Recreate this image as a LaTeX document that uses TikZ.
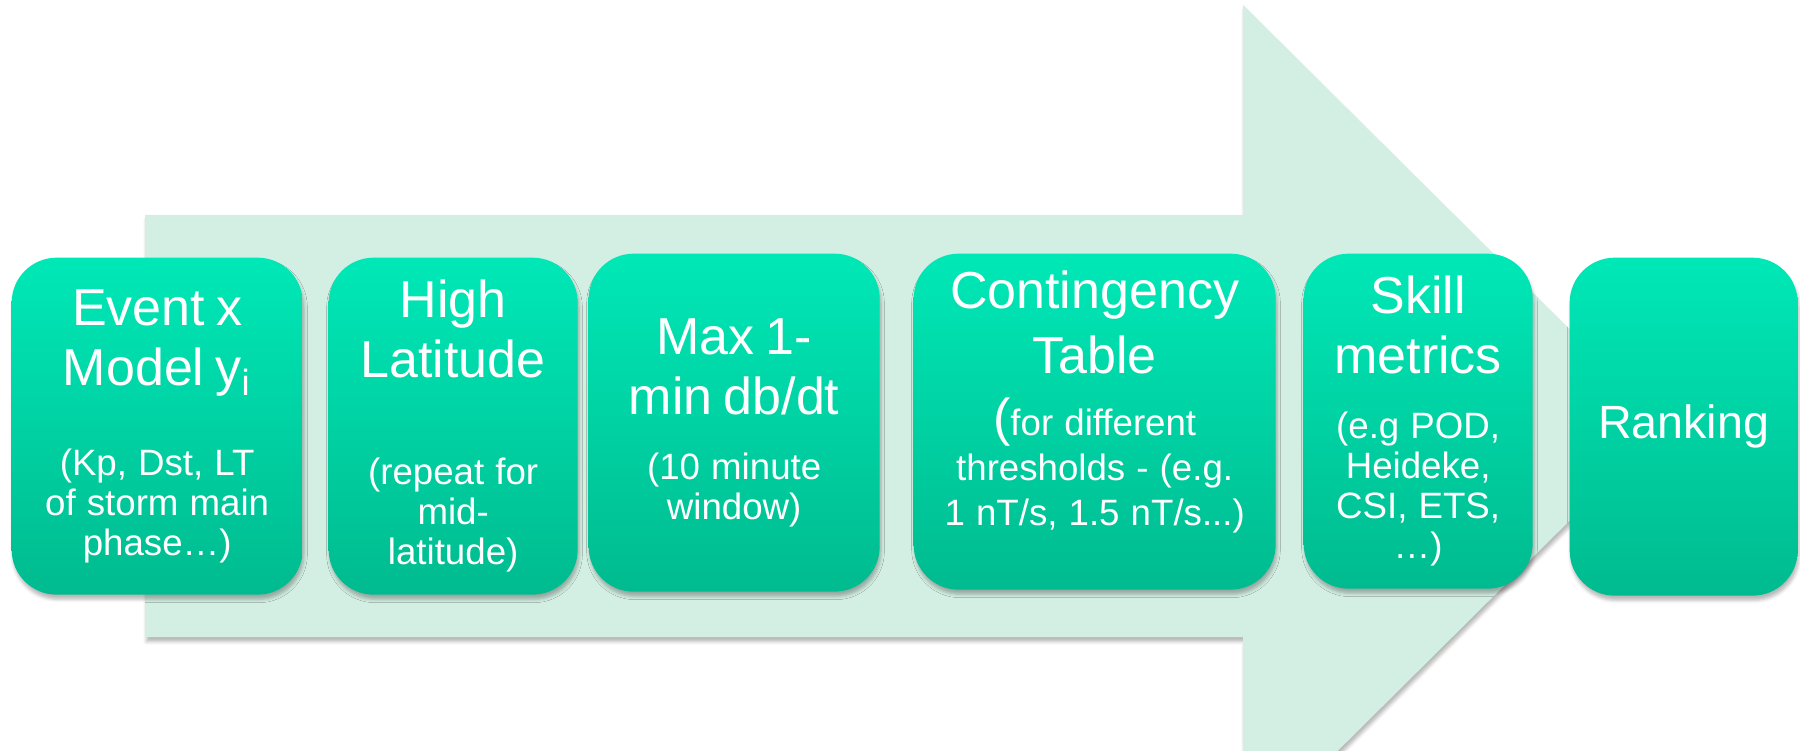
\documentclass[tikz,border=0pt]{standalone}
\usepackage{fontspec}
\setmainfont{Liberation Sans}
\usetikzlibrary{shadows.blur}
\definecolor{arrowfill}{HTML}{D3EEE2}
\definecolor{boxtop}{HTML}{00E8B7}
\definecolor{boxbot}{HTML}{00BB8F}
\newcommand{\bigtxt}{\fontsize{15.6}{18}\selectfont}
\newcommand{\smalltxt}{\fontsize{11}{12}\selectfont}
\setlength{\parindent}{0pt}
\tikzset{
	softshadow/.style={blur shadow={shadow xshift=0.4pt,shadow yshift=-1.4pt,shadow blur radius=1pt,shadow opacity=28}},
	stepbox/.style={rounded corners=13.5pt,top color=boxtop,bottom color=boxbot,draw=none,text=white,inner sep=0pt,anchor=north west,align=center,softshadow},
}
\begin{document}
\begin{tikzpicture}[x=0.3pt,y=-0.3pt]
	\useasboundingbox (0,0) rectangle (1800,751);
	\clip (0,0) rectangle (1800,751);
	% big arrow behind the steps
	\fill[arrowfill,softshadow] (145,215) -- (1243,215) -- (1243,5) -- (1666,425) -- (1243,845) -- (1243,637) -- (145,637) -- cycle;

	\node (bEvent) at (11,257) [stepbox,minimum width=87.3pt,minimum height=101.1pt,text width=79pt] {{\bigtxt Event x\\Model y\textsubscript{i}\par}\vskip15pt{\smalltxt (Kp, Dst, LT\\of storm main\\phase…)\par}};
	\node (bHigh) at (328,257) [stepbox,minimum width=74.7pt,minimum height=101.1pt,text width=68pt] {{\bigtxt High\\Latitude\par}\vskip20pt{\smalltxt (repeat for\\mid-\\latitude)\par}};
	\node (bMax) at (588,253) [stepbox,minimum width=87.3pt,minimum height=101.4pt,text width=79pt] {{\bigtxt Max 1-\\min db/dt\par}\vskip7.5pt{\smalltxt (10 minute\\window)\par}};
	\node (bTable) at (913,253) [stepbox,minimum width=108.6pt,minimum height=100.8pt,text width=100pt] {{\bigtxt Contingency\\[1.5pt]Table\par}\vskip5pt{\fontsize{11}{13.5}\selectfont{\bigtxt(}for different\\thresholds - (e.g.\\1 nT/s, 1.5 nT/s...)\par}\vskip2pt\hbox{}};
	\node (bSkill) at (1303,253) [stepbox,minimum width=68.7pt,minimum height=100.5pt,text width=64pt] {{\bigtxt Skill\\metrics\par}\vskip7.5pt{\smalltxt (e.g POD,\\Heideke,\\CSI, ETS,\\…)\par}};
	\node (bRank) at (1569,257) [stepbox,minimum width=68.4pt,minimum height=101.4pt,text width=62pt] {\fontsize{14}{17}\selectfont Ranking};
\end{tikzpicture}
\end{document}
